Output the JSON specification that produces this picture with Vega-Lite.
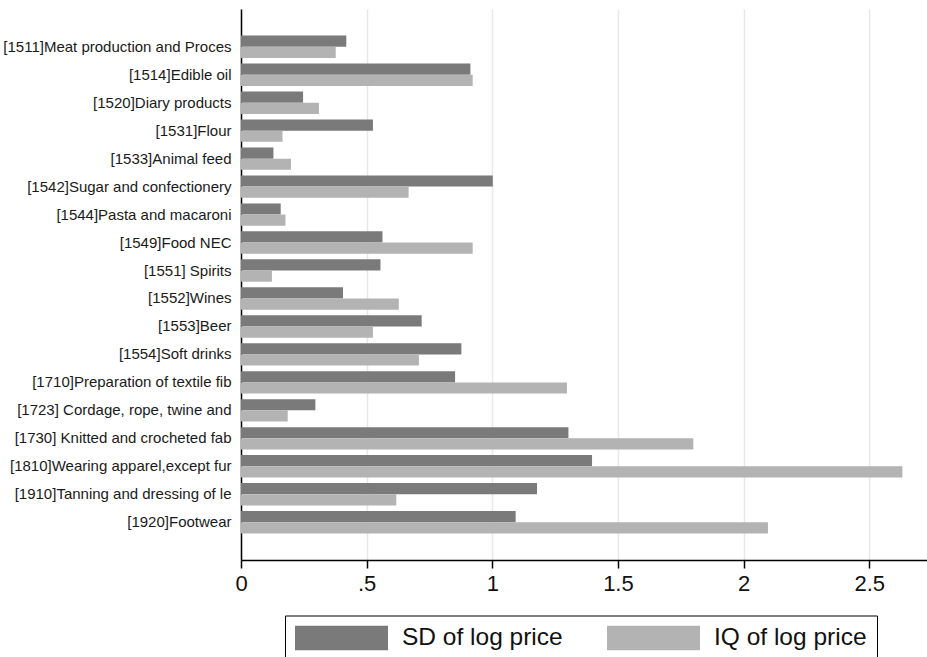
{
  "$schema": "https://vega.github.io/schema/vega-lite/v6.json",
  "autosize": {"type": "none"},
  "padding": {"left": 241, "top": 9, "right": 0, "bottom": 97},
  "width": 686,
  "height": 551,
  "background": "white",
  "config": {
    "font": "Liberation Sans",
    "view": {"stroke": null}
  },
  "data": {
    "values": [
      {"industry": "[1511]Meat production and Proces", "series": "SD of log price", "value": 0.419},
      {"industry": "[1511]Meat production and Proces", "series": "IQ of log price", "value": 0.377},
      {"industry": "[1514]Edible oil", "series": "SD of log price", "value": 0.913},
      {"industry": "[1514]Edible oil", "series": "IQ of log price", "value": 0.922},
      {"industry": "[1520]Diary products", "series": "SD of log price", "value": 0.247},
      {"industry": "[1520]Diary products", "series": "IQ of log price", "value": 0.310},
      {"industry": "[1531]Flour", "series": "SD of log price", "value": 0.525},
      {"industry": "[1531]Flour", "series": "IQ of log price", "value": 0.165},
      {"industry": "[1533]Animal feed", "series": "SD of log price", "value": 0.129},
      {"industry": "[1533]Animal feed", "series": "IQ of log price", "value": 0.199},
      {"industry": "[1542]Sugar and confectionery", "series": "SD of log price", "value": 1.002},
      {"industry": "[1542]Sugar and confectionery", "series": "IQ of log price", "value": 0.667},
      {"industry": "[1544]Pasta and macaroni", "series": "SD of log price", "value": 0.158},
      {"industry": "[1544]Pasta and macaroni", "series": "IQ of log price", "value": 0.177},
      {"industry": "[1549]Food NEC", "series": "SD of log price", "value": 0.563},
      {"industry": "[1549]Food NEC", "series": "IQ of log price", "value": 0.922},
      {"industry": "[1551] Spirits", "series": "SD of log price", "value": 0.555},
      {"industry": "[1551] Spirits", "series": "IQ of log price", "value": 0.123},
      {"industry": "[1552]Wines", "series": "SD of log price", "value": 0.406},
      {"industry": "[1552]Wines", "series": "IQ of log price", "value": 0.628},
      {"industry": "[1553]Beer", "series": "SD of log price", "value": 0.719},
      {"industry": "[1553]Beer", "series": "IQ of log price", "value": 0.525},
      {"industry": "[1554]Soft drinks", "series": "SD of log price", "value": 0.877},
      {"industry": "[1554]Soft drinks", "series": "IQ of log price", "value": 0.708},
      {"industry": "[1710]Preparation of textile fib", "series": "SD of log price", "value": 0.852},
      {"industry": "[1710]Preparation of textile fib", "series": "IQ of log price", "value": 1.297},
      {"industry": "[1723] Cordage, rope, twine and", "series": "SD of log price", "value": 0.296},
      {"industry": "[1723] Cordage, rope, twine and", "series": "IQ of log price", "value": 0.186},
      {"industry": "[1730] Knitted and crocheted fab", "series": "SD of log price", "value": 1.303},
      {"industry": "[1730] Knitted and crocheted fab", "series": "IQ of log price", "value": 1.800},
      {"industry": "[1810]Wearing apparel,except fur", "series": "SD of log price", "value": 1.397},
      {"industry": "[1810]Wearing apparel,except fur", "series": "IQ of log price", "value": 2.632},
      {"industry": "[1910]Tanning and dressing of le", "series": "SD of log price", "value": 1.178},
      {"industry": "[1910]Tanning and dressing of le", "series": "IQ of log price", "value": 0.618},
      {"industry": "[1920]Footwear", "series": "SD of log price", "value": 1.093},
      {"industry": "[1920]Footwear", "series": "IQ of log price", "value": 2.097}
    ]
  },
  "mark": {"type": "bar"},
  "encoding": {
    "y": {
      "field": "industry",
      "type": "nominal",
      "sort": null,
      "scale": {"paddingInner": 0.2, "paddingOuter": 0.95},
      "axis": {
        "title": null,
        "ticks": false,
        "labelPadding": 10,
        "labelFontSize": 15,
        "labelColor": "#1a1a1a",
        "labelLimit": 300,
        "domainColor": "#000000",
        "domainWidth": 1.5,
        "grid": false
      }
    },
    "yOffset": {
      "field": "series",
      "type": "nominal",
      "sort": ["SD of log price", "IQ of log price"],
      "scale": {"paddingInner": 0, "paddingOuter": 0}
    },
    "x": {
      "field": "value",
      "type": "quantitative",
      "scale": {"domain": [0, 2.73], "nice": false, "zero": true},
      "axis": {
        "title": null,
        "values": [0, 0.5, 1, 1.5, 2, 2.5],
        "labelExpr": "datum.value == 0.5 ? '.5' : format(datum.value, '~g')",
        "labelFlush": false,
        "labelFontSize": 22,
        "labelColor": "#111111",
        "labelPadding": 5,
        "tickSize": 8,
        "tickColor": "#000000",
        "tickWidth": 1.5,
        "domainColor": "#000000",
        "domainWidth": 1.5,
        "grid": true,
        "gridColor": "#e8e8e8",
        "gridWidth": 1.5
      }
    },
    "color": {
      "field": "series",
      "type": "nominal",
      "scale": {"domain": ["SD of log price", "IQ of log price"], "range": ["#7a7a7a", "#b3b3b3"]},
      "legend": {
        "title": null,
        "orient": "none",
        "legendX": 44,
        "legendY": 606.5,
        "direction": "horizontal",
        "symbolType": "M-1,-0.2688H1V0.2688H-1Z",
        "symbolSize": 8649,
        "symbolStrokeWidth": 0,
        "symbolOpacity": 1,
        "clipHeight": 25,
        "labelFontSize": 24.5,
        "labelColor": "#111111",
        "labelOffset": 14,
        "columnPadding": 44,
        "padding": 10,
        "strokeColor": "#000000",
        "labelLimit": 400
      }
    }
  }
}
